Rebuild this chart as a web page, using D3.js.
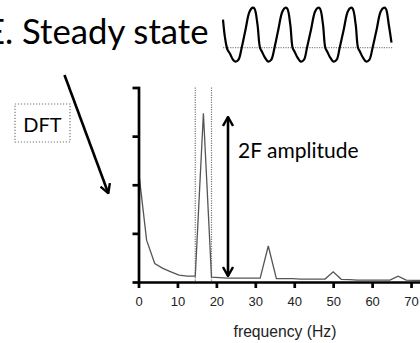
<!DOCTYPE html>
<html>
<head>
<meta charset="utf-8">
<script src="https://cdn.jsdelivr.net/npm/d3@7"></script>
<style>
  body { margin: 0; background: #fff; }
  svg { display: block; }
</style>
</head>
<body>
<svg width="420" height="343"></svg>
<script>
// DFT spectrum, bin spacing ~2.08 Hz
const freqs = [0, 2.08, 4.17, 6.25, 8.33, 10.42, 12.5, 14.58, 16.67, 18.75, 20.83, 22.92,
    25, 27.08, 29.17, 31.25, 33.33, 35.42, 37.5, 39.58, 41.67, 43.75, 45.83, 47.92,
    50, 52.08, 54.17, 56.25, 58.33, 60.42, 62.5, 64.58, 66.67, 68.75, 70.83, 72.92];
const amps = [2.30, 0.86, 0.38, 0.28, 0.21, 0.14, 0.12, 0.12, 3.47, 0.10, 0.09, 0.08,
    0.08, 0.08, 0.08, 0.08, 0.74, 0.07, 0.07, 0.07, 0.06, 0.06, 0.06, 0.06,
    0.21, 0.055, 0.05, 0.04, 0.04, 0.04, 0.04, 0.04, 0.12, 0.037, 0.035, 0.035];
const xTicks = [0, 10, 20, 30, 40, 50, 60, 70];
const yTicks = [0, 1, 2, 3, 4];
const bandEdges = [14.58, 18.75];   // dotted lines around the 2F peak

// steady-state waveform inset (time, value; 0 = dotted baseline)
const waveT = [0, 2, 4.5, 7, 10, 12.7, 15.5, 18.7, 22.5, 26.5, 29.7, 31.5, 34.5, 37, 39, 42, 45.3,
    48.3, 51.5, 55.3, 59.3, 62.3, 64.3, 67.3, 69.6, 71.6, 74.6, 78,
    81, 84, 88, 92, 95, 97, 100, 102.3, 104.3, 107.3, 110.7,
    113.7, 116.7, 120.7, 124.7, 127.7, 129.7, 132.7, 135, 137, 140, 143.4,
    146.4, 149.6, 153.6, 157.6, 160.8, 162.8, 165.8, 168.5];
const waveV = [28, 10, -2, -6, -12, -14, -12, 0, 18, 36, 40, 39, 23, 0, -4, -10, -14,
    -12, 0, 18, 36, 40, 39, 23, 0, -4, -10, -14,
    -12, 0, 18, 36, 40, 39, 23, 0, -4, -10, -14,
    -12, 0, 18, 36, 40, 39, 23, 0, -4, -10, -14,
    -12, 0, 18, 36, 40, 39, 23, 5];

const titleText = "E. Steady state";
const boxLabel = "DFT";
const arrowLabel = "2F amplitude";
const xLabel = "frequency (Hz)";

const svg = d3.select("svg");
svg.append("rect").attr("width", 420).attr("height", 343).attr("fill", "#fff");

const defs = svg.append("defs");
defs.append("marker")
    .attr("id", "head")
    .attr("viewBox", "0 0 12 12")
    .attr("refX", 11).attr("refY", 6)
    .attr("markerWidth", 12).attr("markerHeight", 12)
    .attr("markerUnits", "userSpaceOnUse")
    .attr("orient", "auto-start-reverse")
    .append("path")
    .attr("d", "M2,1 L11,6 L2,11")
    .attr("fill", "none")
    .attr("stroke", "#000")
    .attr("stroke-width", 2.4);

// ---- spectrum ----
const x = d3.scaleLinear().domain([0, 72.3]).range([138.5, 420]);
const y = d3.scaleLinear().domain([0, 4]).range([282, 87.5]);

bandEdges.forEach(f => {
    svg.append("line")
        .attr("x1", x(f)).attr("x2", x(f))
        .attr("y1", y(4)).attr("y2", y(0))
        .attr("stroke", "#777")
        .attr("stroke-width", 1.2)
        .attr("stroke-dasharray", "1.2,1.2");
});

svg.append("path")
    .datum(freqs.map((f, i) => [f, amps[i]]))
    .attr("fill", "none")
    .attr("stroke", "#555")
    .attr("stroke-width", 1.3)
    .attr("d", d3.line().x(d => x(d[0])).y(d => y(d[1])));

const gx = svg.append("g")
    .attr("transform", `translate(0,${y(0)})`)
    .call(d3.axisBottom(x).tickValues(xTicks).tickSize(6).tickSizeOuter(0).tickPadding(9));
const gy = svg.append("g")
    .attr("transform", `translate(${x(0)},0)`)
    .call(d3.axisLeft(y).tickValues(yTicks).tickSize(6).tickSizeOuter(0).tickFormat(""));
[gx, gy].forEach(g => {
    g.select(".domain").attr("stroke", "#000").attr("stroke-width", 2.7).attr("stroke-linecap", "square");
    g.selectAll(".tick line").attr("stroke", "#000").attr("stroke-width", 2.7);
});
gx.selectAll(".tick text")
    .attr("fill", "#222")
    .style("font-family", "'Liberation Sans', Arial, sans-serif")
    .style("font-size", "13px");

svg.append("text")
    .attr("x", 285).attr("y", 337)
    .attr("text-anchor", "middle")
    .attr("fill", "#222")
    .style("font-family", "'Liberation Sans', Arial, sans-serif")
    .style("font-size", "15.7px")
    .text(xLabel);

// double-headed arrow for 2F amplitude
svg.append("line")
    .attr("x1", 228).attr("x2", 228)
    .attr("y1", 276).attr("y2", 117)
    .attr("stroke", "#000")
    .attr("stroke-width", 2.6)
    .attr("marker-start", "url(#head)")
    .attr("marker-end", "url(#head)");

svg.append("text")
    .attr("x", 238).attr("y", 158)
    .attr("fill", "#000")
    .style("font-family", "Lato, sans-serif")
    .style("font-size", "21px")
    .text(arrowLabel);

// ---- title and DFT label ----
svg.append("text")
    .attr("x", 208.5).attr("y", 43.5)
    .attr("text-anchor", "end")
    .attr("fill", "#000")
    .style("font-family", "Lato, sans-serif")
    .style("font-size", "34.7px")
    .text(titleText);

svg.append("rect")
    .attr("x", 15).attr("y", 104)
    .attr("width", 55).attr("height", 38)
    .attr("fill", "none")
    .attr("stroke", "#777")
    .attr("stroke-width", 1.2)
    .attr("stroke-dasharray", "1.2,1.8");
svg.append("text")
    .attr("x", 42.5).attr("y", 132)
    .attr("text-anchor", "middle")
    .style("font-family", "Lato, sans-serif")
    .style("font-size", "20px")
    .text(boxLabel);

svg.append("line")
    .attr("x1", 64.5).attr("y1", 75)
    .attr("x2", 108.3).attr("y2", 193.3)
    .attr("stroke", "#000")
    .attr("stroke-width", 2.6)
    .attr("marker-end", "url(#head)");

// ---- waveform inset ----
const wx = d3.scaleLinear().domain([0, 170]).range([223, 393]);
const wy = d3.scaleLinear().domain([0, 40]).range([47.7, 7.7]);

svg.append("line")
    .attr("x1", wx(0)).attr("x2", wx(170))
    .attr("y1", wy(0)).attr("y2", wy(0))
    .attr("stroke", "#888")
    .attr("stroke-width", 1.2)
    .attr("stroke-dasharray", "1.2,1.2");

svg.append("path")
    .datum(waveT.map((t, i) => [t, waveV[i]]))
    .attr("fill", "none")
    .attr("stroke", "#000")
    .attr("stroke-width", 2.2)
    .attr("d", d3.line().curve(d3.curveCatmullRom).x(d => wx(d[0])).y(d => wy(d[1])));
</script>
</body>
</html>
